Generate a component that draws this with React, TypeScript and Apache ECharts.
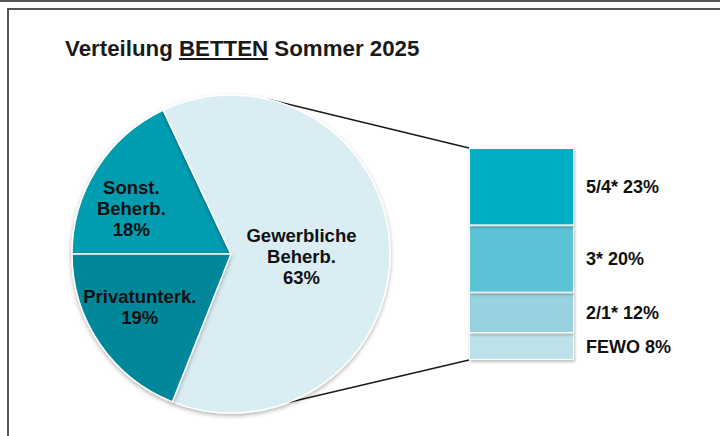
import React, { useEffect, useRef } from "react";
import * as echarts from "echarts";

// ---- data ----
const pieNames = ["Sonst.\nBeherb.", "Gewerbliche\nBeherb.", "Privatunterk."];
const pieValues = [18, 63, 19];
const pieColors = ["#009CB0", "#DAEDF3", "#00879A"];

const barNames = ["FEWO", "2/1*", "3*", "5/4*"];
const barValues = [8, 12, 20, 23];
const barColors = ["#BEE2EA", "#98D2E1", "#5BC2D5", "#00AFC6"];

const titleParts = ["Verteilung ", "BETTEN", " Sommer 2025"];

// ---- layout constants ----
const FONT = "'Liberation Sans', Arial, sans-serif";
const TITLE_FONT = `bold 22.3px ${FONT}`;
const TITLE_X = 65;
const CX = 231;
const CY = 254;
const R = 159;
const BAR_LEFT = 469;
const BAR_TOP = 148;
const BAR_W = 105;
const BAR_H = 212;
const PIE_LABEL_SHIFT: number[][] = [
  [-30, -1],
  [-12, 5],
  [-23, 7],
];

function measure(text: string, font: string): number {
  const c = document.createElement("canvas");
  const ctx = c.getContext("2d");
  if (!ctx) return text.length * 12;
  ctx.font = font;
  return ctx.measureText(text).width;
}

export default function App() {
  const ref = useRef<HTMLDivElement>(null);

  useEffect(() => {
    if (!ref.current) return;
    const chart = echarts.init(ref.current, undefined, { renderer: "svg" });

    const topAng = (76.6 * Math.PI) / 180;
    const botAng = (-69.4 * Math.PI) / 180;
    const pTop = [CX + R * Math.cos(topAng), CY - R * Math.sin(topAng)];
    const pBot = [CX + R * Math.cos(botAng), CY - R * Math.sin(botAng)];

    const ulStart = TITLE_X + measure(titleParts[0], TITLE_FONT);
    const ulEnd = ulStart + measure(titleParts[1], TITLE_FONT);

    const barSeries = barNames.map((n, i) => ({
      type: "bar",
      name: n,
      stack: "total",
      barWidth: "100%",
      data: [barValues[i]],
      itemStyle: {
        color: barColors[i],
        borderColor: "#ffffff",
        borderWidth: 1,
        shadowColor: "rgba(0,0,0,0.25)",
        shadowBlur: 3,
        shadowOffsetX: 1,
        shadowOffsetY: 2,
      },
      label: {
        show: true,
        position: "right",
        distance: 12,
        formatter: (p: any) => `${p.seriesName} ${p.value}%`,
        color: "#111",
        fontFamily: FONT,
        fontSize: 18,
        fontWeight: "bold",
      },
      silent: true,
    }));

    chart.setOption({
      animation: false,
      graphic: [
        {
          type: "line",
          shape: { x1: 0, y1: 1, x2: 720, y2: 1 },
          style: { stroke: "#555", lineWidth: 2 },
        },
        {
          type: "polyline",
          shape: { points: [[8, 436], [8, 9], [720, 9]] },
          style: { stroke: "#555", lineWidth: 2, fill: "none" },
        },
        {
          type: "text",
          x: TITLE_X,
          y: 48,
          style: {
            text: titleParts.join(""),
            font: TITLE_FONT,
            fill: "#1a1a1a",
            verticalAlign: "middle",
          },
        },
        {
          type: "line",
          shape: { x1: ulStart, y1: 59, x2: ulEnd, y2: 59 },
          style: { stroke: "#1a1a1a", lineWidth: 2 },
        },
        {
          type: "line",
          shape: { x1: pTop[0], y1: pTop[1], x2: BAR_LEFT, y2: BAR_TOP },
          style: { stroke: "#1a1a1a", lineWidth: 1.5 },
        },
        {
          type: "line",
          shape: { x1: pBot[0], y1: pBot[1], x2: BAR_LEFT, y2: BAR_TOP + BAR_H },
          style: { stroke: "#1a1a1a", lineWidth: 1.5 },
        },
      ],
      grid: {
        left: BAR_LEFT,
        top: BAR_TOP,
        width: BAR_W,
        height: BAR_H,
        containLabel: false,
      },
      xAxis: {
        type: "category",
        data: ["Gewerbliche"],
        show: false,
      },
      yAxis: {
        type: "value",
        min: 0,
        max: barValues.reduce((a, b) => a + b, 0),
        show: false,
      },
      series: [
        {
          type: "pie",
          center: [CX, CY],
          radius: R,
          startAngle: 180,
          clockwise: true,
          silent: true,
          data: pieNames.map((n, i) => ({
            name: n,
            value: pieValues[i],
            itemStyle: { color: pieColors[i] },
          })),
          itemStyle: {
            borderColor: "#ffffff",
            borderWidth: 1.5,
            shadowColor: "rgba(0,0,0,0.3)",
            shadowBlur: 4,
            shadowOffsetY: 2,
          },
          label: {
            show: true,
            position: "inside",
            formatter: (p: any) => `${p.name}\n${p.value}%`,
            color: "#111",
            fontFamily: FONT,
            fontSize: 18.5,
            fontWeight: "bold",
            lineHeight: 21,
            align: "center",
          },
          labelLayout: (p: any) => {
            const s = PIE_LABEL_SHIFT[p.dataIndex] || [0, 0];
            return { dx: s[0], dy: s[1] };
          },
          labelLine: { show: false },
          emphasis: { disabled: true },
        },
        ...barSeries,
      ],
    });

    return () => chart.dispose();
  }, []);

  return (
    <div
      ref={ref}
      style={{
        position: "fixed",
        left: 0,
        top: 0,
        width: 720,
        height: 436,
        background: "#ffffff",
      }}
    />
  );
}
